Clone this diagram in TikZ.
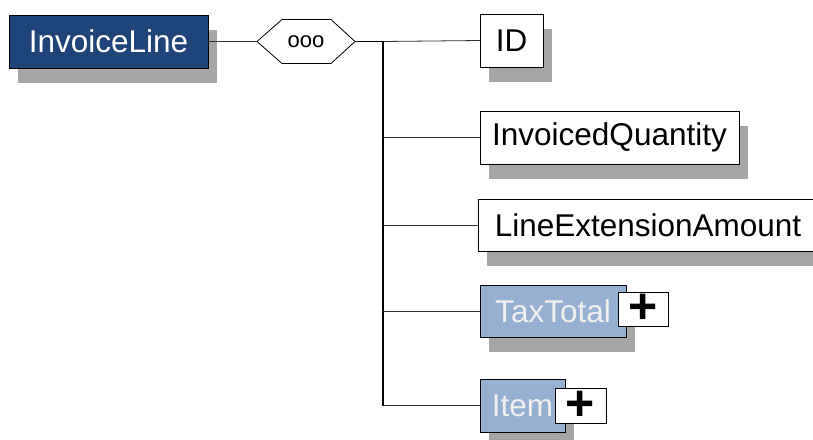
\documentclass[tikz,border=0pt]{standalone}
\usepackage{fontspec}
\setmainfont{Liberation Sans}
\usetikzlibrary{shadows}
\definecolor{darkblue}{HTML}{1F4479}
\definecolor{lightblue}{HTML}{95B0D2}
\definecolor{shadowgray}{HTML}{A6A6A6}
\definecolor{linegray}{HTML}{303030}
\tikzset{
  elem/.style={draw=black, line width=0.9pt, inner sep=0pt, outer sep=0pt,
    font=\fontsize{31.5}{35}\selectfont,
    general shadow={fill=shadowgray, shadow xshift=9pt, shadow yshift=-15pt}},
  mainelem/.style={elem, fill=darkblue, text=white},
  plainelem/.style={elem, fill=white, text=black},
  cplxelem/.style={elem, fill=lightblue, text=white!94!black},
  plusbox/.style={draw=black, line width=0.9pt, fill=white, inner sep=0pt, outer sep=0pt,
    font=\fontsize{50}{50}\bfseries\selectfont},
  conn/.style={draw=linegray, line width=0.8pt},
}
\begin{document}
\begin{tikzpicture}[x=1pt,y=-1pt]
\useasboundingbox (0,0) rectangle (813,439);
% main element
\node[mainelem, minimum width=199pt, minimum height=53pt] (inv) at (108.5,41.5) {InvoiceLine};
% sequence compositor
\node[inner sep=0pt, outer sep=0pt, minimum width=98pt, minimum height=44pt] (seq) at (306,41.5) {};
\draw[line width=0.8pt, fill=white] (seq.west) -- ([xshift=25pt]seq.north west) -- ([xshift=-24pt]seq.north east)
  -- (seq.east) -- ([xshift=-24pt]seq.south east) -- ([xshift=25pt]seq.south west) -- cycle;
\node[inner sep=0pt, font=\fontsize{22}{24}\selectfont] (seqlabel) at (seq.center) {ooo};
% children
\node[plainelem, minimum width=63pt, minimum height=53pt] (id) at (511.5,40.5) {ID};
\node[plainelem, minimum width=259pt, minimum height=53pt] (qty) at (609.5,137.5) {InvoicedQuantity};
\node[plainelem, minimum width=340pt, minimum height=52pt] (lea) at (648,225) {LineExtensionAmount};
\node[cplxelem, minimum width=146pt, minimum height=52pt] (tax) at (553,311) {TaxTotal};
\node[plusbox, minimum width=50pt, minimum height=34pt] (taxplus) at (643,309) {+};
\node[cplxelem, minimum width=85pt, minimum height=53pt] (item) at (522.5,405.5) {Item};
\node[plusbox, minimum width=51pt, minimum height=35pt] (itemplus) at (580.5,405.5) {+};
% connectors
\coordinate (bus) at (383,41.5);
\coordinate (busend) at (383,405.5);
\draw[conn] (inv.east) -- (seq.west);
\draw[line width=1.6pt] (seq.east) -- (bus);
\draw[line width=1.1pt] (bus) -- (busend);
\draw[conn] (bus) -- (id.west);
\draw[conn] (bus |- qty.west) -- (qty.west);
\draw[conn] (bus |- lea.west) -- (lea.west);
\draw[conn] (bus |- tax.west) -- (tax.west);
\draw[conn] (busend) -- (item.west);
\end{tikzpicture}
\end{document}
